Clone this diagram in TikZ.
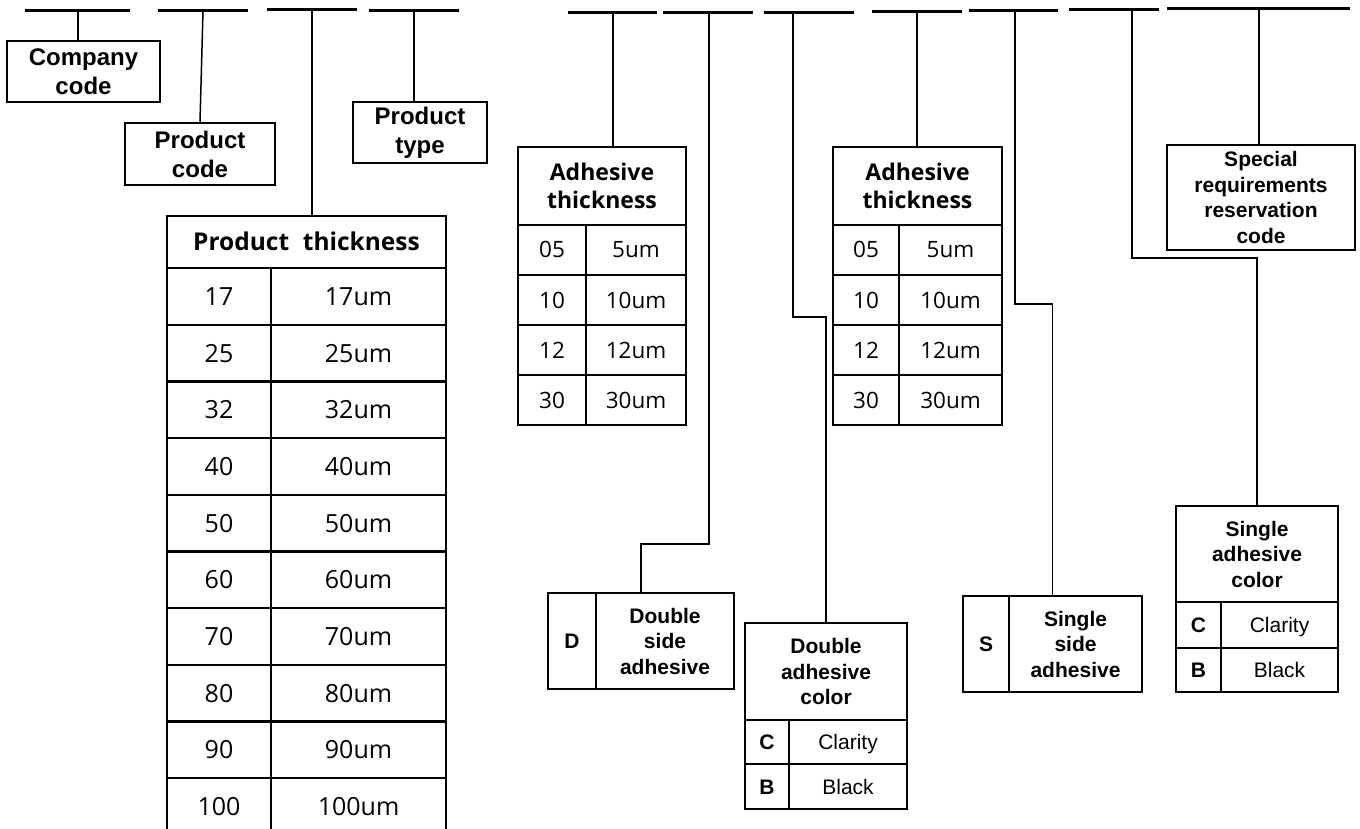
\documentclass[tikz,border=0pt]{standalone}
\usepackage{fontspec}
\setmainfont{Liberation Sans}
\newfontfamily\tabfont{Open Sans}
\usetikzlibrary{fit}
\tikzset{
 bar/.style={line width=3pt},
 conn/.style={line width=1.5pt},
 cellbox/.style={draw, line width=2.3pt, inner sep=0pt},
 grp/.style={inner sep=0pt},
 celltext/.style={inner sep=0pt, align=center},
 toplab/.style={font=\fontsize{24}{29}\selectfont\bfseries},
 botlab/.style={font=\fontsize{21}{25.5}\selectfont\bfseries},
 botone/.style={font=\fontsize{21}{25.5}\selectfont\bfseries, text height=15pt, text depth=0pt},
 botreg/.style={font=\fontsize{21}{25.5}\selectfont, text height=15pt, text depth=0pt},
 speclab/.style={font=\fontsize{21}{25.5}\selectfont\bfseries},
 tabbig/.style={font=\tabfont\fontsize{25}{29}\selectfont, text height=18pt, text depth=0pt},
 tabbighead/.style={font=\tabfont\fontsize{24.5}{29}\selectfont\bfseries, text height=17.5pt, text depth=0pt},
 tabsm/.style={font=\tabfont\fontsize{22.5}{28}\selectfont, text height=16pt, text depth=0pt},
 tabsmhead/.style={font=\tabfont\fontsize{23}{28}\selectfont\bfseries},
}
\newcommand\cellat[7]{%
  \node[cellbox,fit={(#2,#3) (#4,#5)}] (#1) {};
  \node[celltext,#7] (#1t) at (#1.center) {#6};}
\begin{document}
\begin{tikzpicture}[x=1pt,y=-1pt]
\useasboundingbox[fill=white] (0,0) rectangle (1360,829);
% ---- top bars ----
\draw[bar] (25,11) -- (130,11);   \coordinate (t1) at (78,11);
\draw[bar] (158,11) -- (248,11);  \coordinate (t2) at (203,11);
\draw[bar] (267,10) -- (357,10);  \coordinate (t3) at (312,10);
\draw[bar] (369,11) -- (459,11);  \coordinate (t4) at (414,11);
\draw[bar] (568,13) -- (657,13);  \coordinate (tA) at (613,13);
\draw[bar] (663,13) -- (753,13);  \coordinate (tB) at (709,13);
\draw[bar] (764,13) -- (854,13);  \coordinate (tC) at (793,13);
\draw[bar] (872,12) -- (962,12);  \coordinate (tD) at (917,12);
\draw[bar] (969,11) -- (1058,11); \coordinate (tE) at (1015,11);
\draw[bar] (1069,10) -- (1159,10);\coordinate (tF) at (1132,10);
\draw[bar] (1167,9) -- (1350,9);  \coordinate (tG) at (1259,9);
% ---- label boxes ----
\cellat{comp}{7}{41}{160}{102}{Company\\code}{toplab}
\cellat{pcode}{125}{123}{275}{185}{Product\\code}{toplab}
\cellat{ptype}{353}{102}{487}{163}{Product\\type}{toplab}
\cellat{spec}{1167}{145}{1355}{250}{Special\\requirements\\reservation\\code}{speclab}
% ---- product thickness table ----
\cellat{pth}{167}{216}{446}{268}{Product\hspace{0.3em} thickness}{tabbighead}
\foreach \v [count=\i from 0] in {17,25,32,40,50,60,70,80,90,100}{
  \pgfmathsetmacro\ya{268+56.7*\i}
  \pgfmathsetmacro\yb{268+56.7*(\i+1)}
  \cellat{pta\i}{167}{\ya}{271}{\yb}{\v}{tabbig}
  \cellat{ptb\i}{271}{\ya}{446}{\yb}{\v um}{tabbig}
}
% ---- adhesive thickness tables ----
\cellat{adh1}{518}{147}{686}{225}{Adhesive\\thickness}{tabsmhead}
\cellat{adh2}{833}{147}{1002}{225}{Adhesive\\thickness}{tabsmhead}
\foreach \v/\w [count=\i from 0] in {05/5,10/10,12/12,30/30}{
  \pgfmathsetmacro\ya{225+50*\i}
  \pgfmathsetmacro\yb{225+50*(\i+1)}
  \cellat{aoa\i}{518}{\ya}{586}{\yb}{\v}{tabsm}
  \cellat{aob\i}{586}{\ya}{686}{\yb}{\w um}{tabsm}
  \cellat{ata\i}{833}{\ya}{899}{\yb}{\v}{tabsm}
  \cellat{atb\i}{899}{\ya}{1002}{\yb}{\w um}{tabsm}
}
% ---- double side adhesive ----
\cellat{dL}{548}{593}{596}{689}{D}{botone}
\cellat{dR}{596}{593}{734}{689}{Double\\side\\adhesive}{botlab}
\node[grp,fit=(dL)(dR)] (dbox) {};
% ---- double adhesive color ----
\cellat{dcol}{745}{623}{907}{720}{Double\\adhesive\\color}{botlab}
\cellat{dcCa}{745}{720}{789}{764}{C}{botone}
\cellat{dcCb}{789}{720}{907}{764}{Clarity}{botreg}
\cellat{dcBa}{745}{764}{789}{809}{B}{botone}
\cellat{dcBb}{789}{764}{907}{809}{Black}{botreg}
% ---- single side adhesive ----
\cellat{sL}{963}{596}{1009}{692}{S}{botone}
\cellat{sR}{1009}{596}{1142}{692}{Single\\side\\adhesive}{botlab}
\node[grp,fit=(sL)(sR)] (sbox) {};
% ---- single adhesive color ----
\cellat{scol}{1176}{506}{1338}{602}{Single\\adhesive\\color}{botlab}
\cellat{scCa}{1176}{602}{1221}{648}{C}{botone}
\cellat{scCb}{1221}{602}{1338}{648}{Clarity}{botreg}
\cellat{scBa}{1176}{648}{1221}{692}{B}{botone}
\cellat{scBb}{1221}{648}{1338}{692}{Black}{botreg}
% ---- connectors ----
\draw[conn] (t1) -- (t1 |- comp.north);
\draw[conn] (t2) -- (pcode.north);
\draw[conn] (t3) -- (t3 |- pth.north);
\draw[conn] (t4) -- (t4 |- ptype.north);
\draw[conn] (tA) -- (tA |- adh1.north);
\draw[conn] (tB) -- (709,544) -| (dbox.north);
\draw[conn] (tC) -- (793,317) -| (dcol.north);
\draw[conn] (tD) -- (tD |- adh2.north);
\draw[conn] (tE) -- (1015,304) -| (sbox.north);
\draw[conn] (tF) -- (1132,258) -| (scol.north);
\draw[conn] (tG) -- (tG |- spec.north);
\end{tikzpicture}
\end{document}
